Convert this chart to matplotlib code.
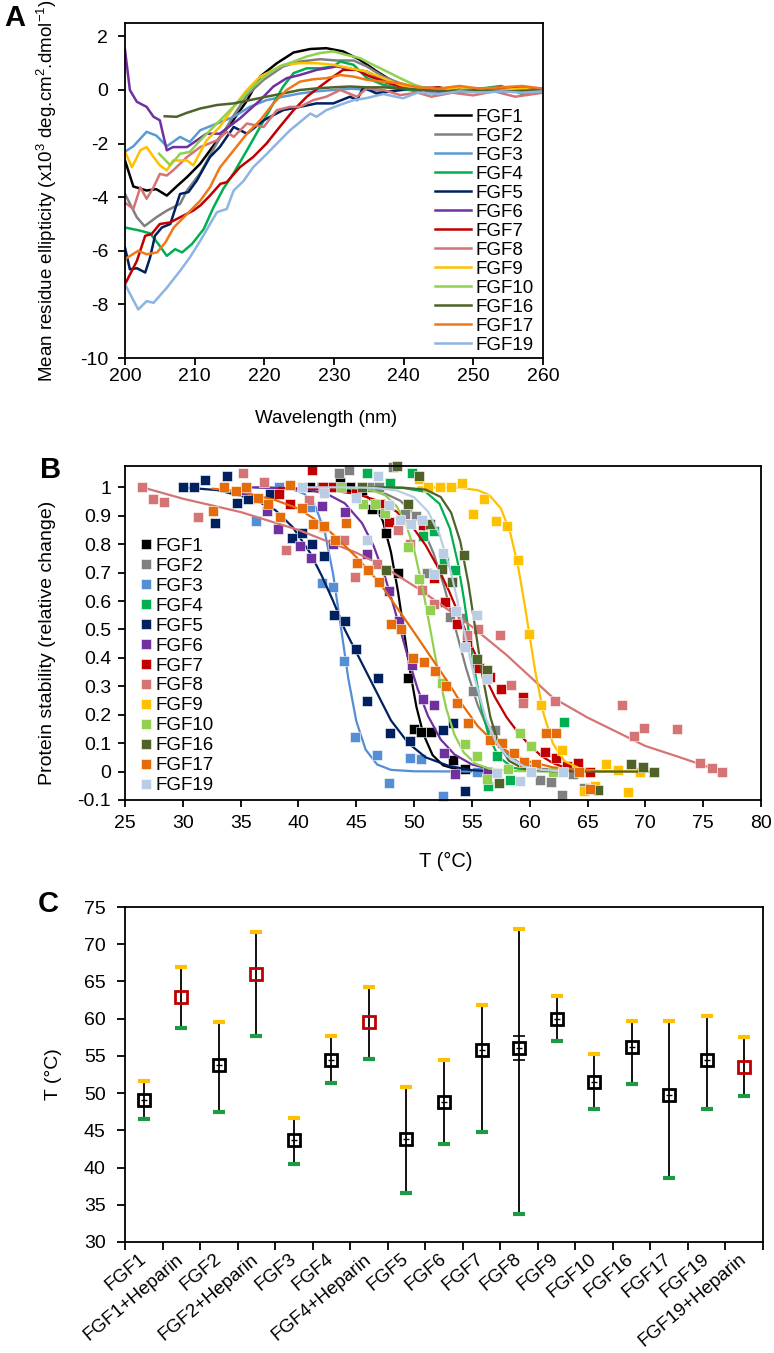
import matplotlib
matplotlib.use("Agg")
import matplotlib.pyplot as plt
from matplotlib.ticker import FuncFormatter, FixedLocator

plt.rcParams["font.family"] = ["Liberation Sans", "DejaVu Sans"]
plt.rcParams["font.size"] = 13.5
plt.rcParams["mathtext.fontset"] = "custom"
plt.rcParams["mathtext.rm"] = "Liberation Sans"
plt.rcParams["mathtext.it"] = "Liberation Sans:italic"
plt.rcParams["axes.linewidth"] = 1.3
plt.rcParams["axes.unicode_minus"] = False

names = ["FGF1", "FGF2", "FGF3", "FGF4", "FGF5", "FGF6", "FGF7",
         "FGF8", "FGF9", "FGF10", "FGF16", "FGF17", "FGF19"]
colors_a = ["#000000", "#808080", "#5B9BD5", "#00B050", "#002060", "#7030A0", "#C00000",
            "#D47474", "#FFC000", "#92D050", "#4F6228", "#F07818", "#8DB4E2"]
colors_b = ["#000000", "#808080", "#558ED5", "#00B050", "#002060", "#7030A0", "#C00000",
            "#D47474", "#FFC000", "#92D050", "#4F6228", "#E46C0A", "#B9CDE5"]

# ---- panel A: CD spectra (wavelength nm, mean residue ellipticity x10^3)
wl_fgf1 = [200, 201.2, 203.1, 204.5, 206, 207.4, 208.9, 210.8, 213.2, 215.6, 217.5, 219.4, 221.8, 224.2,
           226.6, 228.9, 231.3, 233.7, 236.1, 238.5, 241, 244, 247, 250, 253, 256, 260]
cd_fgf1 = [-2.63, -3.6, -3.75, -3.7, -3.94, -3.6, -3.25, -2.75, -1.9, -1.1, -0.4, 0.5, 1.0, 1.4,
           1.53, 1.56, 1.44, 1.13, 0.7, 0.31, 0.1, -0.05, -0.1, 0.05, 0.0, -0.05, 0.0]
wl_fgf2 = [200, 201.7, 202.8, 204.5, 206, 207.9, 208.9, 210.8, 212.7, 215.6, 217.5, 219.9, 222.7, 225.1,
           228, 230.4, 232.8, 234.7, 237.1, 239.5, 242, 245, 248, 251, 254, 257, 260]
cd_fgf2 = [-3.88, -4.75, -5.08, -4.75, -4.5, -4.25, -3.75, -3.1, -2.2, -0.95, -0.2, 0.38, 0.88, 1.06,
           1.15, 1.1, 1.1, 0.88, 0.5, 0.25, 0.05, -0.1, -0.05, 0.05, -0.05, 0.05, 0.0]
wl_fgf3 = [200, 201.2, 203.1, 204.5, 206, 207.9, 209.3, 210.8, 213.2, 215.6, 217.9, 220.3, 222.7, 225.1,
           227.5, 229.9, 232.5, 235, 237.5, 240, 243, 246, 249, 252, 255, 258, 260]
cd_fgf3 = [-2.3, -2.1, -1.56, -1.7, -2.1, -1.75, -1.94, -1.5, -1.25, -1.0, -0.63, -0.38, -0.25, -0.13,
           -0.05, 0.0, 0.05, 0.0, -0.05, 0.0, 0.05, -0.05, 0.0, 0.05, -0.05, 0.0, 0.05]
wl_fgf4 = [200, 202.2, 203.6, 204.8, 206, 207.2, 208.2, 209.6, 211.3, 212.7, 214.1, 215.6, 217.5, 219.4,
           221.3, 222.7, 224.2, 226.1, 228, 229.9, 230.9, 232.8, 234.7, 237, 239.5, 242, 245, 248, 251,
           254, 257, 260]
cd_fgf4 = [-5.13, -5.25, -5.35, -5.75, -6.19, -5.94, -6.06, -5.75, -5.19, -4.38, -3.69, -3.1, -2.25, -1.38,
           -0.5, 0.13, 0.63, 0.81, 0.81, 0.88, 1.06, 0.94, 0.45, 0.2, 0.05, -0.05, 0.1, -0.1, 0.05,
           0.15, -0.15, 0.0]
wl_fgf5 = [200, 200.7, 201.7, 202.9, 203.6, 204.3, 205.3, 206.5, 207.9, 209.1, 210.3, 212.2, 213.6, 215.6,
           217.5, 219.9, 222.7, 225.1, 227.5, 229.9, 232.3, 233.3, 234.2, 236.1, 239.5, 242, 245, 248,
           251, 254, 257, 260]
cd_fgf5 = [-5.88, -6.69, -6.65, -6.81, -6.25, -5.44, -5.13, -5.0, -3.88, -3.81, -3.38, -2.5, -2.13, -1.38,
           -1.63, -1.13, -0.75, -0.63, -0.5, -0.5, -0.25, -0.38, 0.1, -0.13, 0.0, 0.1, 0.05, 0.1,
           -0.05, 0.1, 0.05, 0.0]
wl_fgf6 = [200, 200.7, 201.7, 203.1, 204.1, 205, 206, 206.9, 208.9, 210.3, 211.7, 213.6, 216.5, 219.4,
           221.3, 223.2, 225.1, 227.5, 228.9, 230.4, 231.8, 234.7, 237.1, 239.5, 242, 245, 248, 251,
           254, 257, 260]
cd_fgf6 = [1.5, 0.0, -0.44, -0.63, -1.0, -1.13, -2.25, -2.13, -2.13, -1.88, -1.63, -1.63, -1.06, -0.38,
           0.13, 0.44, 0.56, 0.75, 0.81, 0.88, 0.81, 0.69, 0.38, 0.19, 0.05, -0.05, 0.05, 0.0,
           -0.05, 0.05, 0.0]
wl_fgf7 = [200, 201.7, 202.9, 203.8, 205, 206.5, 207.9, 209.8, 210.8, 212.2, 213.7, 214.6, 216.5, 218.4,
           220.3, 222.2, 224.2, 226.1, 228, 229.9, 231.3, 233.3, 234.7, 237.1, 239.5, 242, 245, 248,
           251, 254, 257, 260]
cd_fgf7 = [-7.25, -6.38, -5.44, -5.38, -5.0, -4.94, -4.75, -4.5, -4.31, -3.94, -3.5, -3.44, -2.88, -2.5,
           -2.0, -1.38, -0.75, -0.25, 0.13, 0.5, 0.75, 0.75, 0.56, 0.31, 0.13, 0.05, 0.1, -0.05,
           0.0, 0.1, -0.05, 0.05]
wl_fgf8 = [200, 201.2, 202.2, 203.1, 204.1, 205, 206, 206.9, 208.9, 210.8, 213.2, 214.6, 215.6, 217.5,
           219.9, 221.8, 223.7, 225.1, 227, 228.9, 230.9, 233.3, 234.7, 237.1, 239.5, 242, 244, 247,
           250, 253, 256, 260]
cd_fgf8 = [-4.2, -4.44, -3.63, -4.06, -3.63, -3.13, -3.19, -3.0, -2.5, -2.13, -1.88, -1.56, -1.75, -1.25,
           -1.38, -0.75, -0.63, -0.63, -0.38, -0.25, 0.0, -0.25, 0.06, 0.0, -0.19, -0.1, -0.25, -0.1,
           -0.2, -0.05, -0.25, -0.1]
wl_fgf9 = [200, 201, 202.2, 203.1, 204.1, 205, 206, 206.9, 208.9, 209.8, 211.7, 213.6, 215.6, 217.5,
           219.4, 221.3, 222.7, 225.1, 227.5, 229.9, 232.3, 234.7, 237.1, 239.5, 242, 245, 248, 251,
           254, 257, 260]
cd_fgf9 = [-2.3, -2.88, -2.25, -2.13, -2.5, -2.81, -3.0, -2.63, -2.63, -2.81, -1.88, -1.38, -0.63, 0.0,
           0.5, 0.75, 0.94, 1.0, 1.0, 0.94, 0.81, 0.69, 0.44, 0.19, 0.05, 0.0, 0.1, -0.05,
           0.0, 0.05, -0.05]
wl_fgf10 = [204.9, 206.5, 207.9, 209.3, 210.8, 212.7, 214.6, 216.5, 218.4, 220.3, 222.2, 224.2, 226.1,
            228, 229.9, 231.8, 233.7, 235.6, 237.6, 239.5, 241.5, 244, 247, 250, 253, 256, 260]
cd_fgf10 = [-2.38, -2.81, -2.38, -2.31, -1.88, -1.38, -0.88, -0.38, 0.13, 0.56, 0.88, 1.06, 1.25,
            1.38, 1.44, 1.31, 1.19, 0.94, 0.69, 0.44, 0.2, 0.0, -0.05, 0.05, 0.0, -0.05, 0.0]
wl_fgf16 = [205.7, 207.4, 208.9, 210.8, 213.2, 215.6, 217.9, 220.3, 222.7, 225.1, 227.5, 229.9, 232.3,
            234.7, 237.1, 239.5, 243, 247, 251, 255, 260]
cd_fgf16 = [-0.98, -1.0, -0.85, -0.69, -0.56, -0.5, -0.38, -0.25, -0.13, 0.0, 0.06, 0.1, 0.13,
            0.1, 0.1, 0.06, 0.0, -0.05, 0.0, -0.05, 0.0]
wl_fgf17 = [200, 201.9, 203.1, 204.6, 205.8, 207, 208.9, 210.8, 212.2, 213.6, 215.6, 217.5, 219.4,
            221.3, 223.2, 225.1, 227, 228.9, 230.9, 232.8, 234.7, 237.1, 239.5, 242, 245, 248, 251,
            254, 257, 260]
cd_fgf17 = [-6.31, -6.0, -6.13, -6.06, -5.69, -5.13, -4.63, -4.13, -3.63, -2.9, -2.25, -1.63, -1.13,
            -0.5, 0.0, 0.31, 0.4, 0.44, 0.56, 0.5, 0.38, 0.31, 0.25, 0.1, 0.05, 0.15, 0.05,
            0.1, 0.15, 0.05]
wl_fgf19 = [200, 201.9, 203.1, 204.1, 206, 207.9, 209.3, 210.8, 212.2, 213.2, 214.6, 215.6, 217,
            218.4, 220.3, 221.3, 223.7, 225.1, 226.6, 227.5, 228.9, 230.9, 232.8, 234.7, 237.1,
            239.9, 242, 245, 248, 251, 254, 257, 260]
cd_fgf19 = [-7.25, -8.19, -7.88, -7.94, -7.38, -6.75, -6.25, -5.63, -5.0, -4.56, -4.44, -3.75, -3.4,
            -2.88, -2.4, -2.13, -1.5, -1.2, -0.88, -1.0, -0.75, -0.55, -0.38, -0.3, -0.15,
            -0.31, -0.1, -0.15, -0.05, -0.1, -0.05, -0.1, -0.05]

# ---- panel B: thermal denaturation (measured points)
t_fgf1 = [41.0, 42.0, 43.0, 43.6, 44.5, 45.5, 46.4, 47.3, 47.6, 48.6, 49.5, 50.0, 50.6, 51.5, 53.4, 54.4, 56.2]
s_fgf1 = [1.0, 1.0, 1.0, 1.02, 1.0, 0.99, 0.925, 0.925, 0.84, 0.70, 0.33, 0.15, 0.14, 0.14, 0.04, 0.01, 0.0]
t_fgf2 = [43.5, 44.4, 46.4, 47.0, 48.2, 49.2, 50.2, 51.1, 53.1, 54.1, 55.1, 57.0, 60.9, 61.85, 62.8, 63.7, 64.7]
s_fgf2 = [1.05, 1.06, 1.0, 1.0, 1.07, 0.907, 0.898, 0.70, 0.545, 0.54, 0.285, 0.147, -0.028, -0.037, -0.084, -0.01, -0.057]
t_fgf3 = [36.3, 38.3, 41.0, 42.0, 43.0, 43.9, 44.9, 46.8, 47.8, 49.65, 50.6, 52.5, 55.4]
s_fgf3 = [0.88, 1.0, 0.93, 0.665, 0.65, 0.39, 0.12, 0.057, -0.04, 0.048, 0.044, -0.085, 0.0]
t_fgf4 = [45.9, 47.9, 49.8, 50.75, 51.7, 52.6, 53.5, 54.6, 56.4, 57.2, 58.3, 63.0]
s_fgf4 = [1.05, 1.015, 1.05, 0.83, 0.847, 0.74, 0.709, 0.46, -0.05, 0.054, -0.03, 0.176]
t_fgf5 = [30.0, 31.0, 31.9, 32.8, 33.8, 34.7, 35.6, 37.5, 39.4, 40.3, 41.2, 42.2, 43.1, 44.0, 45.0, 45.9,
          46.9, 47.9, 49.65, 52.5, 53.4, 54.4]
s_fgf5 = [1.0, 1.0, 1.025, 0.875, 1.04, 0.945, 0.96, 0.978, 0.82, 0.84, 0.80, 0.76, 0.55, 0.53, 0.43, 0.25,
          0.33, 0.135, 0.106, 0.145, 0.17, -0.07]
t_fgf6 = [35.5, 37.3, 38.2, 40.1, 41.1, 42.0, 43.0, 44.0, 45.9, 47.8, 48.7, 49.8, 50.75, 51.7, 52.6, 53.5, 56.4]
s_fgf6 = [0.99, 0.917, 0.853, 0.794, 0.75, 0.933, 0.80, 0.913, 0.765, 0.636, 0.53, 0.375, 0.255, 0.235, 0.065, -0.01, 0.0]
t_fgf7 = [38.35, 39.3, 41.15, 42.1, 43.0, 45.0, 47.05, 47.8, 50.8, 51.7, 52.7, 53.7, 54.55, 55.6, 56.6, 57.5,
          59.4, 61.3, 62.3, 63.2, 64.2, 65.2]
s_fgf7 = [0.975, 0.94, 1.06, 1.0, 1.0, 0.98, 0.943, 0.878, 0.867, 0.68, 0.597, 0.52, 0.457, 0.364, 0.334, 0.29,
          0.262, 0.07, 0.048, 0.019, 0.03, 0.0]
t_fgf8 = [26.5, 27.45, 28.4, 31.3, 35.2, 37.05, 38.9, 40.9, 42.1, 43.9, 44.9, 46.8, 48.6, 49.65, 50.65, 51.7,
          54.55, 55.5, 57.4, 58.4, 59.4, 62.2, 68.0, 69.0, 69.9, 72.7, 74.7, 75.75, 76.6]
s_fgf8 = [1.0, 0.96, 0.95, 0.895, 1.05, 1.02, 0.78, 0.957, 0.86, 0.816, 0.685, 0.73, 0.85, 0.80, 0.64, 0.59,
          0.48, 0.50, 0.48, 0.305, 0.24, 0.25, 0.235, 0.124, 0.153, 0.15, 0.03, 0.013, 0.0]
t_fgf9 = [50.4, 51.2, 52.25, 53.2, 54.1, 55.1, 56.05, 57.05, 58.0, 58.96, 59.9, 60.95, 62.8, 64.7, 65.65,
          66.6, 67.6, 68.5, 69.5]
s_fgf9 = [1.03, 1.0, 1.0, 1.0, 1.015, 0.907, 0.958, 0.88, 0.864, 0.746, 0.484, 0.235, 0.075, -0.07, -0.05,
          0.028, 0.005, -0.073, 0.0]
t_fgf10 = [43.7, 45.6, 46.6, 47.5, 49.5, 50.45, 51.4, 52.4, 54.4, 55.4, 56.3, 58.15, 59.2, 60.1, 62.0]
s_fgf10 = [1.0, 0.94, 0.94, 0.91, 0.79, 0.677, 0.568, 0.31, 0.098, 0.054, -0.026, 0.01, 0.135, 0.09, 0.0]
t_fgf16 = [45.5, 47.6, 48.5, 49.5, 50.45, 51.4, 52.4, 53.3, 54.35, 55.4, 56.3, 57.3, 65.9, 68.8, 69.8, 70.75]
s_fgf16 = [1.0, 0.709, 1.074, 0.94, 1.04, 0.872, 0.712, 0.668, 0.763, 0.395, 0.358, -0.04, -0.066, 0.028, 0.015, 0.0]
t_fgf17 = [32.6, 33.6, 34.6, 35.5, 36.5, 37.4, 38.4, 39.3, 40.3, 41.3, 42.2, 43.2, 44.1, 45.1, 46.05, 47.0,
           48.0, 48.9, 49.9, 50.9, 51.8, 52.8, 53.75, 54.7, 56.6, 57.6, 58.6, 59.5, 60.5, 61.4, 62.3, 64.3, 65.2]
s_fgf17 = [0.917, 1.0, 0.986, 1.0, 0.964, 0.94, 0.894, 1.007, 0.927, 0.87, 0.863, 0.814, 0.873, 0.733, 0.71,
           0.667, 0.518, 0.503, 0.40, 0.387, 0.355, 0.30, 0.24, 0.17, 0.11, 0.10, 0.065, 0.033, 0.028, 0.135,
           0.135, 0.0, -0.063]
t_fgf19 = [40.3, 42.2, 45.0, 45.9, 46.9, 47.8, 48.8, 49.7, 50.65, 51.7, 52.5, 53.6, 54.4, 55.4, 56.3, 57.2,
           59.2, 60.1, 62.9]
s_fgf19 = [1.0, 0.98, 0.964, 0.816, 1.04, 0.937, 0.886, 0.87, 0.886, 0.695, 0.77, 0.566, 0.44, 0.55, 0.325,
           -0.005, -0.034, 0.0, 0.0]

# ---- panel B: fitted curves
ft_fgf1 = [41, 44, 45.5, 46.5, 47.3, 48, 48.6, 49.1, 49.6, 50.2, 50.8, 51.6, 52.5, 54, 56.2]
fs_fgf1 = [1.0, 0.997, 0.982, 0.947, 0.881, 0.772, 0.635, 0.5, 0.365, 0.228, 0.132, 0.058, 0.022, 0.004, 0.0]
ft_fgf2 = [43.5, 46, 47.5, 48.8, 49.9, 50.8, 51.7, 52.6, 53.6, 54.5, 55.5, 56.5, 57.5, 59, 61, 64.7]
fs_fgf2 = [0.998, 0.991, 0.978, 0.953, 0.91, 0.852, 0.766, 0.651, 0.5, 0.363, 0.234, 0.14, 0.081, 0.033, 0.01, 0.001]
ft_fgf3 = [36.3, 38, 39.5, 40.5, 41.5, 42.3, 43, 43.7, 44.3, 45, 45.8, 46.8, 48, 50, 55.4]
fs_fgf3 = [1.0, 0.999, 0.993, 0.977, 0.93, 0.839, 0.694, 0.5, 0.33, 0.178, 0.078, 0.025, 0.006, 0.001, 0.0]
ft_fgf4 = [45.9, 49, 51, 52.2, 53.1, 53.8, 54.3, 54.7, 55.2, 55.85, 56.5, 57.3, 58.5, 60, 63]
fs_fgf4 = [1.0, 0.998, 0.984, 0.942, 0.855, 0.731, 0.609, 0.5, 0.365, 0.218, 0.119, 0.053, 0.014, 0.003, 0.0]
ft_fgf5 = [30, 33, 36, 38, 39.5, 41, 42, 43, 44, 45, 46, 47, 48, 49.5, 51, 53, 55, 57]
fs_fgf5 = [1.0, 0.99, 0.96, 0.92, 0.86, 0.77, 0.69, 0.6, 0.5, 0.42, 0.34, 0.26, 0.18, 0.1, 0.05, 0.02, 0.005, 0.0]
ft_fgf6 = [35.5, 39, 41, 42.5, 44, 45.5, 46.5, 47.5, 48.2, 48.8, 49.5, 50.3, 51.2, 52.3, 53.5, 55, 56.4]
fs_fgf6 = [1.0, 0.997, 0.99, 0.976, 0.944, 0.874, 0.794, 0.683, 0.587, 0.5, 0.398, 0.292, 0.196, 0.113, 0.06, 0.025, 0.011]
ft_fgf7 = [38.35, 42, 45, 47, 48.5, 50, 51, 52, 53, 54, 55, 56, 57, 58, 59, 60, 61, 62, 63, 65.2]
fs_fgf7 = [0.998, 0.993, 0.977, 0.951, 0.914, 0.853, 0.796, 0.723, 0.637, 0.54, 0.44, 0.345, 0.261, 0.191,
           0.137, 0.092, 0.055, 0.03, 0.015, 0.0]
ft_fgf8 = [26.5, 30, 35, 40, 45, 47, 50.5, 55, 58, 62, 65, 70, 73, 76.6]
fs_fgf8 = [1.0, 0.96, 0.913, 0.85, 0.77, 0.73, 0.64, 0.51, 0.41, 0.26, 0.19, 0.09, 0.05, 0.0]
ft_fgf9 = [50.4, 54, 55.5, 56.5, 57.5, 58.3, 59, 59.6, 59.9, 60.5, 61.2, 62, 63, 64.5, 66, 69.5]
fs_fgf9 = [1.0, 0.998, 0.99, 0.973, 0.926, 0.843, 0.72, 0.578, 0.5, 0.347, 0.203, 0.099, 0.037, 0.008, 0.002, 0.0]
ft_fgf10 = [43.7, 45.5, 46.5, 47.5, 48.5, 49.3, 50, 50.7, 51.4, 52.1, 52.8, 53.5, 54.3, 55.3, 56.5, 58.5, 62]
fs_fgf10 = [0.999, 0.995, 0.988, 0.972, 0.933, 0.871, 0.781, 0.654, 0.5, 0.346, 0.219, 0.129, 0.067, 0.028,
            0.01, 0.002, 0.0]
ft_fgf16 = [45.5, 49, 51, 52.3, 53.2, 54, 54.7, 55.3, 55.9, 56.6, 57.3, 58.2, 59.5, 62, 66, 70.75]
fs_fgf16 = [1.0, 0.999, 0.992, 0.966, 0.911, 0.809, 0.661, 0.5, 0.339, 0.191, 0.098, 0.038, 0.009, 0.001, 0.0, 0.0]
ft_fgf17 = [32.6, 35, 38, 40, 41.9, 43.5, 45, 46, 47, 48.8, 50, 51.5, 53, 54, 55.5, 57, 58.5, 60, 62, 65.2]
fs_fgf17 = [0.995, 0.985, 0.955, 0.925, 0.875, 0.815, 0.755, 0.71, 0.665, 0.56, 0.49, 0.4, 0.31, 0.245, 0.16,
            0.1, 0.06, 0.035, 0.015, 0.004]
ft_fgf19 = [40.3, 44, 46.5, 48.5, 50, 51.2, 52.2, 53.2, 54.3, 55.2, 56.2, 57, 58, 59.5, 61, 62.9]
fs_fgf19 = [1.0, 1.0, 0.998, 0.989, 0.965, 0.915, 0.834, 0.70, 0.5, 0.334, 0.188, 0.111, 0.055, 0.018, 0.006, 0.0]

# ---- panel C: melting temperatures with error range
c_labels = ["FGF1", "FGF1+Heparin", "FGF2", "FGF2+Heparin", "FGF3", "FGF4", "FGF4+Heparin", "FGF5",
            "FGF6", "FGF7", "FGF8", "FGF9", "FGF10", "FGF16", "FGF17", "FGF19", "FGF19+Heparin"]
c_tm = [49.1, 62.9, 53.8, 66.0, 43.7, 54.4, 59.5, 43.8, 48.8, 55.8, 56.0, 59.9, 51.5, 56.2, 49.7, 54.5, 53.5]
c_upper = [51.6, 67.0, 59.6, 71.6, 46.6, 57.7, 64.2, 50.8, 54.4, 61.8, 72.0, 63.0, 55.3, 59.7, 59.7, 60.4, 57.5]
c_lower = [46.5, 58.8, 47.4, 57.7, 40.5, 51.3, 54.6, 36.6, 43.2, 44.8, 33.8, 57.0, 47.8, 51.2, 38.6, 47.8, 49.6]
fgf8_inner = [57.7, 54.4]

spectra = [(wl_fgf1, cd_fgf1), (wl_fgf2, cd_fgf2), (wl_fgf3, cd_fgf3), (wl_fgf4, cd_fgf4),
           (wl_fgf5, cd_fgf5), (wl_fgf6, cd_fgf6), (wl_fgf7, cd_fgf7), (wl_fgf8, cd_fgf8),
           (wl_fgf9, cd_fgf9), (wl_fgf10, cd_fgf10), (wl_fgf16, cd_fgf16), (wl_fgf17, cd_fgf17),
           (wl_fgf19, cd_fgf19)]
points = [(t_fgf1, s_fgf1), (t_fgf2, s_fgf2), (t_fgf3, s_fgf3), (t_fgf4, s_fgf4), (t_fgf5, s_fgf5),
          (t_fgf6, s_fgf6), (t_fgf7, s_fgf7), (t_fgf8, s_fgf8), (t_fgf9, s_fgf9), (t_fgf10, s_fgf10),
          (t_fgf16, s_fgf16), (t_fgf17, s_fgf17), (t_fgf19, s_fgf19)]
fits = [(ft_fgf1, fs_fgf1), (ft_fgf2, fs_fgf2), (ft_fgf3, fs_fgf3), (ft_fgf4, fs_fgf4), (ft_fgf5, fs_fgf5),
        (ft_fgf6, fs_fgf6), (ft_fgf7, fs_fgf7), (ft_fgf8, fs_fgf8), (ft_fgf9, fs_fgf9), (ft_fgf10, fs_fgf10),
        (ft_fgf16, fs_fgf16), (ft_fgf17, fs_fgf17), (ft_fgf19, fs_fgf19)]

W, H = 774, 1353
fig = plt.figure(figsize=(W / 100, H / 100), dpi=100)


def box(l, t, r, b):
    return [l / W, 1 - b / H, (r - l) / W, (b - t) / H]


# ---------------- A
ax = fig.add_axes(box(125, 23, 543, 358))
lines = []
for (wl, cd), c, n in zip(spectra, colors_a, names):
    ln, = ax.plot(wl, cd, color=c, lw=1.8, label=n)
    lines.append(ln)
ax.set_xlim(200, 260)
ax.set_ylim(-10, 2.5)
ax.set_xticks(range(200, 261, 10))
ax.set_yticks(range(-10, 3, 2))
ax.tick_params(direction="out", length=5, width=1.3, labelsize=14)
ax.tick_params(axis="y", pad=7)
ax.tick_params(axis="x", pad=2)
ax.set_xlabel("Wavelength (nm)")
ax.xaxis.set_label_coords(0.481, -0.155)
ax.xaxis.label.set_va("top")
ax.set_ylabel("Mean residue ellipticity (x10$^{3}$ deg.cm$^{2}$.dmol$^{-1}$)")
ax.yaxis.set_label_coords(-0.158, 0.5)
ax.legend(handles=lines, loc="upper left", bbox_to_anchor=(0.742, 0.745), frameon=False,
          handlelength=1.9, handletextpad=0.25, labelspacing=0.1, borderaxespad=0, borderpad=0)

# ---------------- B
bx = fig.add_axes(box(125, 466, 761, 800))
marks = []
for (ft, fs), (t, s), c, n in zip(fits, points, colors_b, names):
    bx.plot(ft, fs, color=c, lw=1.6)
    m, = bx.plot(t, s, "s", color=c, ms=7, mec="white", mew=0.4, clip_on=False, label=n)
    marks.append(m)
bx.set_xlim(25, 80)
bx.set_ylim(-0.1, 1.075)
bx.set_xticks(range(25, 81, 5))
bx.set_yticks([round(-0.1 + 0.1 * k, 1) for k in range(12)])
bx.yaxis.set_major_formatter(FuncFormatter(lambda v, p: f"{round(v, 1):g}"))
bx.tick_params(direction="out", length=5, width=1.3, labelsize=14)
bx.tick_params(axis="y", pad=5)
bx.tick_params(axis="x", pad=6)
bx.set_xlabel("T (°C)", fontsize=14.5)
bx.xaxis.set_label_coords(0.505, -0.155)
bx.xaxis.label.set_va("top")
bx.set_ylabel("Protein stability (relative change)", fontsize=14)
bx.yaxis.set_label_coords(-0.108, 0.47)
bx.legend(handles=marks, loc="upper left", bbox_to_anchor=(0.022, 0.785), frameon=False,
          handlelength=0.7, handletextpad=0.2, labelspacing=0.15, borderaxespad=0, borderpad=0,
          markerscale=1.0)

# ---------------- C
cx = fig.add_axes(box(125, 907, 763, 1242))
for i, lab in enumerate(c_labels):
    hep = "Heparin" in lab
    cx.vlines(i, c_lower[i], c_upper[i], color="black", lw=1.3, zorder=2)
    cx.plot(i, c_upper[i], marker="_", color="#FFC000", ms=8, mew=3, zorder=3)
    cx.plot(i, c_lower[i], marker="_", color="#1E9A45", ms=8, mew=3, zorder=3)
    cx.plot(i, c_tm[i], marker="s", mfc="none", mec="#C00000" if hep else "black", ms=9, mew=2, zorder=4)
    if not hep:
        cx.plot(i, c_tm[i], marker="_", color="black", ms=4, mew=1, zorder=4)
for v in fgf8_inner:
    cx.plot(c_labels.index("FGF8"), v, marker="_", color="black", ms=8, mew=1.2, zorder=3)
cx.set_xlim(-0.5, len(c_labels) - 0.5)
cx.set_ylim(30, 75)
cx.set_yticks(range(30, 76, 5))
cx.set_xticks(range(len(c_labels)))
cx.set_xticklabels(c_labels, rotation=40, ha="right", va="center", rotation_mode="anchor")
cx.xaxis.set_minor_locator(FixedLocator([k - 0.5 for k in range(len(c_labels) + 1)]))
cx.tick_params(axis="x", which="major", length=0, pad=11, labelsize=13.5)
cx.tick_params(axis="x", which="minor", direction="out", length=6, width=1.3)
cx.tick_params(axis="y", direction="out", length=6, width=1.3, pad=8, labelsize=14)
cx.set_ylabel("T (°C)", fontsize=14)
cx.yaxis.set_label_coords(-0.099, 0.5)

fig.text(14.5 / W, 1 - 18.5 / H, "A", fontsize=21, fontweight="bold", ha="center", va="center")
fig.text(51 / W, 1 - 470 / H, "B", fontsize=21, fontweight="bold", ha="center", va="center")
fig.text(48.5 / W, 1 - 904.5 / H, "C", fontsize=21, fontweight="bold", ha="center", va="center")

fig.savefig("out.png", dpi=100)
